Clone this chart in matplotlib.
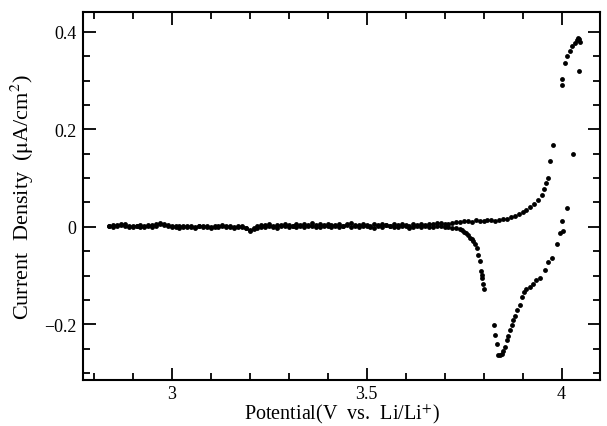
import matplotlib
matplotlib.use("Agg")
import matplotlib.pyplot as plt
from matplotlib.ticker import MultipleLocator

plt.rcParams["font.family"] = ["Liberation Serif", "DejaVu Serif"]
plt.rcParams["mathtext.fontset"] = "stix"

# anodic sweep: flat baseline then oxidation current rising toward 4.05 V
up_v = [2.84, 2.85, 2.86, 2.87, 2.88, 2.89, 2.90, 2.91, 2.92, 2.93,
        2.94, 2.95, 2.96, 2.97, 2.98, 2.99, 3.00, 3.01, 3.02, 3.03,
        3.04, 3.05, 3.06, 3.07, 3.08, 3.09, 3.10, 3.11, 3.12, 3.13,
        3.14, 3.15, 3.16, 3.17, 3.18, 3.19, 3.20, 3.21, 3.22, 3.23,
        3.24, 3.25, 3.26, 3.27, 3.28, 3.29, 3.30, 3.31, 3.32, 3.33,
        3.34, 3.35, 3.36, 3.37, 3.38, 3.39, 3.40, 3.41, 3.42, 3.43,
        3.44, 3.45, 3.46, 3.47, 3.48, 3.49, 3.50, 3.51, 3.52, 3.53,
        3.54, 3.55, 3.56, 3.57, 3.58, 3.59, 3.60, 3.61, 3.62, 3.63,
        3.64, 3.65, 3.66, 3.67, 3.68, 3.69, 3.70, 3.71, 3.72, 3.73,
        3.74, 3.75, 3.76, 3.77, 3.78, 3.79, 3.80, 3.81, 3.82, 3.83,
        3.84, 3.85, 3.86, 3.87, 3.88, 3.89, 3.90, 3.91, 3.92, 3.93,
        3.94, 3.95, 3.955, 3.96, 3.965, 3.97, 3.978, 4.000, 4.002, 4.009,
        4.015, 4.021, 4.028, 4.035, 4.040, 4.042, 4.045, 4.047]
up_i = [0.002, 0.003, 0.004, 0.006, 0.005, 0.002, 0.001, 0.002, 0.003, 0.002,
        0.004, 0.003, 0.006, 0.008, 0.005, 0.003, 0.001, 0.002, 0.001, 0.000,
        0.002, 0.001, 0.000, 0.001, 0.002, 0.001, 0.000, 0.002, 0.001, 0.004,
        0.002, 0.001, 0.000, 0.002, 0.001, -0.002, -0.008, -0.003, 0.002, 0.004,
        0.003, 0.005, 0.002, 0.004, 0.003, 0.006, 0.004, 0.002, 0.005, 0.003,
        0.006, 0.004, 0.007, 0.003, 0.005, 0.002, 0.006, 0.004, 0.003, 0.006,
        0.002, 0.005, 0.007, 0.004, 0.003, 0.006, 0.004, 0.002, 0.005, 0.003,
        0.006, 0.004, 0.002, 0.005, 0.003, 0.006, 0.004, 0.002, 0.005, 0.004,
        0.006, 0.003, 0.005, 0.006, 0.008, 0.007, 0.005, 0.006, 0.008, 0.010,
        0.009, 0.011, 0.012, 0.010, 0.013, 0.011, 0.012, 0.013, 0.014, 0.012,
        0.013, 0.015, 0.016, 0.020, 0.023, 0.026, 0.030, 0.034, 0.040, 0.047,
        0.055, 0.065, 0.078, 0.090, 0.100, 0.135, 0.167, 0.290, 0.304, 0.335,
        0.350, 0.361, 0.371, 0.378, 0.383, 0.388, 0.386, 0.380]

# cathodic sweep: back from 4.05 V through the reduction trough to baseline
down_v = [4.045, 4.030, 4.013, 4.003, 4.000, 3.996, 3.988, 3.975, 3.965, 3.957,
          3.944, 3.935, 3.926, 3.918, 3.910, 3.904, 3.898, 3.893, 3.886, 3.880,
          3.876, 3.872, 3.868, 3.863, 3.860, 3.855, 3.850, 3.847, 3.842, 3.838,
          3.834, 3.829, 3.826, 3.800, 3.799, 3.797, 3.795, 3.793, 3.790, 3.786,
          3.782, 3.778, 3.774, 3.770, 3.765, 3.760, 3.755, 3.750, 3.745, 3.740,
          3.73, 3.72, 3.71, 3.70, 3.69, 3.68, 3.67, 3.66, 3.65, 3.64,
          3.63, 3.62, 3.61, 3.60, 3.59, 3.58, 3.57, 3.56, 3.55, 3.54,
          3.53, 3.52, 3.51, 3.50, 3.49, 3.48, 3.47, 3.46, 3.45, 3.44,
          3.43, 3.42, 3.41, 3.40, 3.39, 3.38, 3.37, 3.36, 3.35, 3.34,
          3.33, 3.32, 3.31, 3.30, 3.29, 3.28, 3.27, 3.26, 3.25, 3.24,
          3.23, 3.22, 3.21, 3.20, 3.19, 3.18, 3.17, 3.16, 3.15, 3.14,
          3.13, 3.12, 3.11, 3.10, 3.09, 3.08, 3.07, 3.06, 3.05, 3.04,
          3.03, 3.02, 3.01, 3.00, 2.99, 2.98, 2.97, 2.96, 2.95, 2.94,
          2.93, 2.92, 2.91, 2.90, 2.89, 2.88, 2.87, 2.86, 2.85, 2.84]
down_i = [0.320, 0.150, 0.039, -0.008, 0.012, -0.012, -0.036, -0.063, -0.073, -0.088,
          -0.104, -0.110, -0.118, -0.124, -0.128, -0.134, -0.145, -0.161, -0.171, -0.182,
          -0.192, -0.202, -0.212, -0.225, -0.233, -0.247, -0.255, -0.260, -0.263, -0.262,
          -0.240, -0.222, -0.202, -0.128, -0.118, -0.105, -0.098, -0.090, -0.070, -0.058,
          -0.044, -0.036, -0.030, -0.026, -0.022, -0.016, -0.012, -0.010, -0.007, -0.005,
          -0.003, -0.002, 0.000, -0.001, 0.002, 0.001, -0.001, 0.000, 0.002, -0.001,
          0.001, 0.000, -0.002, 0.001, 0.002, 0.000, -0.001, 0.001, 0.003, 0.000,
          0.001, -0.002, 0.000, 0.002, 0.001, -0.001, 0.002, 0.000, 0.003, 0.001,
          -0.001, 0.002, 0.000, 0.001, 0.003, 0.000, -0.001, 0.002, 0.001, 0.000,
          0.002, -0.001, 0.001, 0.000, 0.002, 0.001, -0.002, 0.000, 0.001, -0.001,
          0.000, -0.002, -0.004, -0.006, -0.003, -0.001, 0.000, -0.002, 0.000, -0.001,
          0.002, 0.000, -0.001, -0.002, 0.000, -0.001, 0.001, -0.002, 0.000, -0.001,
          0.001, -0.002, 0.000, -0.001, 0.001, 0.003, 0.005, 0.002, 0.000, 0.001,
          -0.001, 0.000, 0.001, -0.001, 0.000, 0.002, 0.003, 0.001, 0.000, 0.001]

x_ticks = [3.0, 3.5, 4.0]
x_tick_labels = ["3", "3.5", "4"]
y_ticks = [-0.2, 0.0, 0.2, 0.4]
y_tick_labels = ["\u22120.2", "0", "0.2", "0.4"]

fig = plt.figure(figsize=(6.07, 4.27), dpi=100)
ax = fig.add_axes([0.137, 0.108, 0.851, 0.862])

ax.plot(up_v, up_i, "o", color="black", markersize=3.5, markeredgewidth=0)
ax.plot(down_v, down_i, "o", color="black", markersize=3.5, markeredgewidth=0)

ax.set_xlim(2.773, 4.098)
ax.set_ylim(-0.314, 0.441)

ax.set_xticks(x_ticks, x_tick_labels)
ax.set_yticks(y_ticks, y_tick_labels)
ax.xaxis.set_minor_locator(MultipleLocator(0.1))
ax.yaxis.set_minor_locator(MultipleLocator(0.05))
ax.tick_params(which="both", direction="in", top=True, right=True,
               width=1.3, labelsize=13)
ax.tick_params(axis="x", pad=4)
ax.tick_params(axis="y", pad=5)
ax.tick_params(which="major", length=9)
ax.tick_params(which="minor", length=5)
for s in ax.spines.values():
    s.set_linewidth(1.5)

ax.set_xlabel("Potential(V  vs.  Li/Li$^{+}$)", fontsize=14.5)
ax.set_ylabel("Current  Density  ($\\mathrm{\\mu}$A/cm$^{2}$)", fontsize=16)
ax.xaxis.set_label_coords(0.5, -0.058)
ax.yaxis.set_label_coords(-0.092, 0.5)

fig.savefig("out.png", dpi=100)
